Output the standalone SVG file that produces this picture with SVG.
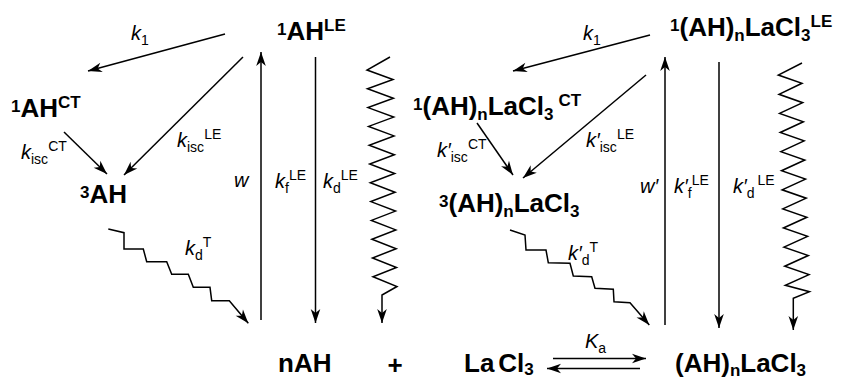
<svg xmlns="http://www.w3.org/2000/svg" width="843" height="379" viewBox="0 0 843 379">
<defs>
<style>
.b{font-family:"Liberation Sans",Arial,sans-serif;font-weight:bold;font-size:26px;fill:#000}
.s{font-size:17px}
.l{font-family:"Liberation Sans",Arial,sans-serif;font-size:20px;fill:#000}
.it{font-style:italic}
.ss{font-size:14px}
.ln{fill:none;stroke:#000;stroke-width:1.5;stroke-linejoin:miter}
.ar{marker-end:url(#ah)}
</style>
<marker id="ah" viewBox="-15 -6 16 12" refX="0" refY="0" markerWidth="16" markerHeight="12" markerUnits="userSpaceOnUse" orient="auto">
<path d="M0,0 L-14,-4.8 L-10,0 L-14,4.8 Z" fill="#000"/>
</marker>
</defs>
<rect width="843" height="379" fill="#fff"/>

<g id="connectors">
<line class="ln ar" x1="225" y1="34" x2="88" y2="71"/>
<line class="ln ar" x1="243" y1="57" x2="124" y2="175"/>
<line class="ln ar" x1="64" y1="132" x2="107" y2="174"/>
<line class="ln ar" x1="261" y1="320" x2="261" y2="52"/>
<line class="ln ar" x1="315.5" y1="57" x2="315.5" y2="323"/>
<polyline class="ln ar" points="390,57 367,70 393,79.5 367.5,88.8 393.4,98.3 368,107.6 393.7,117.1 368.6,126.4 394,135.9 369.2,145.2 394.4,154.7 369.7,164 394.7,173.5 370.3,182.8 395.1,192.3 370.8,201.6 395.5,211.1 371.4,220.4 395.8,229.9 371.9,239.2 396.2,248.7 372.5,258 396.5,267.5 373,276.8 397,286.5 382,295 382,323"/>
<polyline class="ln ar" points="108.3,229 124,232.7 124,249 143.3,249 146.7,261.7 166.7,261.7 171.7,274.3 188.3,274.3 193.3,287.3 210,287.3 211.7,300.7 229.3,300.7 248.3,323.3"/>
<line class="ln ar" x1="650" y1="35" x2="513" y2="71"/>
<line class="ln ar" x1="646" y1="75" x2="523" y2="178"/>
<line class="ln ar" x1="477" y1="123" x2="513" y2="175"/>
<line class="ln ar" x1="665" y1="325" x2="665" y2="57"/>
<line class="ln ar" x1="719" y1="62" x2="719" y2="328"/>
<polyline class="ln ar" points="802,63 778.3,75 802,83.3 779,94.3 802.7,102.7 779.6,113.4 803.4,121.8 780.2,132.5 804.1,140.9 780.9,151.6 804.8,160 781.5,170.7 805.5,179.1 782.1,189.8 806.2,198.2 782.8,208.9 806.9,217.3 783.4,228 807.6,236.4 784,247.1 808.3,255.5 784.7,266.2 809,274.6 785.3,285.3 809.5,291.7 793.3,298.3 793.3,330"/>
<polyline class="ln ar" points="510,230 525,235 526,250 546,250 548.3,262.7 570,263.3 573.3,276 591.7,276.7 595,288.3 613.3,289.3 614,301.7 630,302.7 649.3,325"/>
<line class="ln ar" x1="553" y1="358.5" x2="646" y2="358.5"/>
<line class="ln ar" x1="640" y1="368.5" x2="547" y2="368.5"/>
</g>

<g id="n1AHLE"><text class="b" x="277" y="40"><tspan class="s" dy="-5">1</tspan><tspan dy="5">AH</tspan><tspan class="s" dy="-9">LE</tspan></text></g>
<g id="n1AHCT"><text class="b" x="11" y="117"><tspan class="s" dy="-5">1</tspan><tspan dy="5">AH</tspan><tspan class="s" dy="-9">CT</tspan></text></g>
<g id="n3AH"><text class="b" x="80" y="203"><tspan class="s" dy="-5">3</tspan><tspan dy="5">AH</tspan></text></g>
<g id="n1CT"><text class="b" x="413" y="115"><tspan class="s" dy="-5">1</tspan><tspan dy="5">(AH)</tspan><tspan class="s" dy="5">n</tspan><tspan dy="-5">LaCl</tspan><tspan class="s" dy="5">3</tspan><tspan class="s" dx="5" dy="-14">CT</tspan></text></g>
<g id="n1LE"><text class="b" x="670" y="36"><tspan class="s" dy="-5">1</tspan><tspan dy="5">(AH)</tspan><tspan class="s" dy="5">n</tspan><tspan dy="-5">LaCl</tspan><tspan class="s" dy="5">3</tspan><tspan class="s" dy="-14">LE</tspan></text></g>
<g id="n3T"><text class="b" x="439" y="212"><tspan class="s" dy="-5">3</tspan><tspan dy="5">(AH)</tspan><tspan class="s" dy="5">n</tspan><tspan dy="-5">LaCl</tspan><tspan class="s" dy="5">3</tspan></text></g>
<g id="nAH"><text class="b" x="278" y="372">nAH</text></g>
<g id="plus"><text class="b" x="395" y="374" text-anchor="middle">+</text></g>
<g id="LaCl3"><text class="b" x="464" y="372">La<tspan dx="4">Cl</tspan><tspan class="s" dy="3">3</tspan></text></g>
<g id="complex"><text class="b" x="675" y="372">(AH)<tspan class="s" dy="4">n</tspan><tspan dy="-4">LaCl</tspan><tspan class="s" dy="4">3</tspan></text></g>

<g id="labels">
<text class="l" x="131" y="40"><tspan class="it">k</tspan><tspan class="ss" dy="5">1</tspan></text>
<text class="l" x="583" y="40"><tspan class="it">k</tspan><tspan class="ss" dy="5">1</tspan></text>
<text class="l" x="21" y="159"><tspan class="it">k</tspan><tspan class="ss" dy="5">isc</tspan><tspan class="ss" dy="-13">CT</tspan></text>
<text class="l" x="177" y="147"><tspan class="it">k</tspan><tspan class="ss" dy="5">isc</tspan><tspan class="ss" dy="-13">LE</tspan></text>
<text class="l it" x="234" y="187">w</text>
<text class="l" x="275" y="188"><tspan class="it">k</tspan><tspan class="ss" dy="5">f</tspan><tspan class="ss" dy="-13">LE</tspan></text>
<text class="l" x="323" y="188"><tspan class="it">k</tspan><tspan class="ss" dy="5">d</tspan><tspan class="ss" dy="-13">LE</tspan></text>
<text class="l" x="185" y="255"><tspan class="it">k</tspan><tspan class="ss" dy="5">d</tspan><tspan class="ss" dy="-13">T</tspan></text>
<text class="l" x="437" y="157"><tspan class="it">k′</tspan><tspan class="ss" dy="5">isc</tspan><tspan class="ss" dy="-13">CT</tspan></text>
<text class="l" x="586" y="147"><tspan class="it">k′</tspan><tspan class="ss" dy="5">isc</tspan><tspan class="ss" dy="-13">LE</tspan></text>
<text class="l it" x="640" y="193">w′</text>
<text class="l" x="674" y="193"><tspan class="it">k′</tspan><tspan class="ss" dy="5">f</tspan><tspan class="ss" dy="-13">LE</tspan></text>
<text class="l" x="733" y="193"><tspan class="it">k′</tspan><tspan class="ss" dy="5">d</tspan><tspan class="ss" dx="3" dy="-13">LE</tspan></text>
<text class="l" x="568" y="260"><tspan class="it">k′</tspan><tspan class="ss" dy="5">d</tspan><tspan class="ss" dy="-13">T</tspan></text>
<text class="l" x="585" y="348"><tspan class="it">K</tspan><tspan class="ss" dy="5">a</tspan></text>
</g>
</svg>
